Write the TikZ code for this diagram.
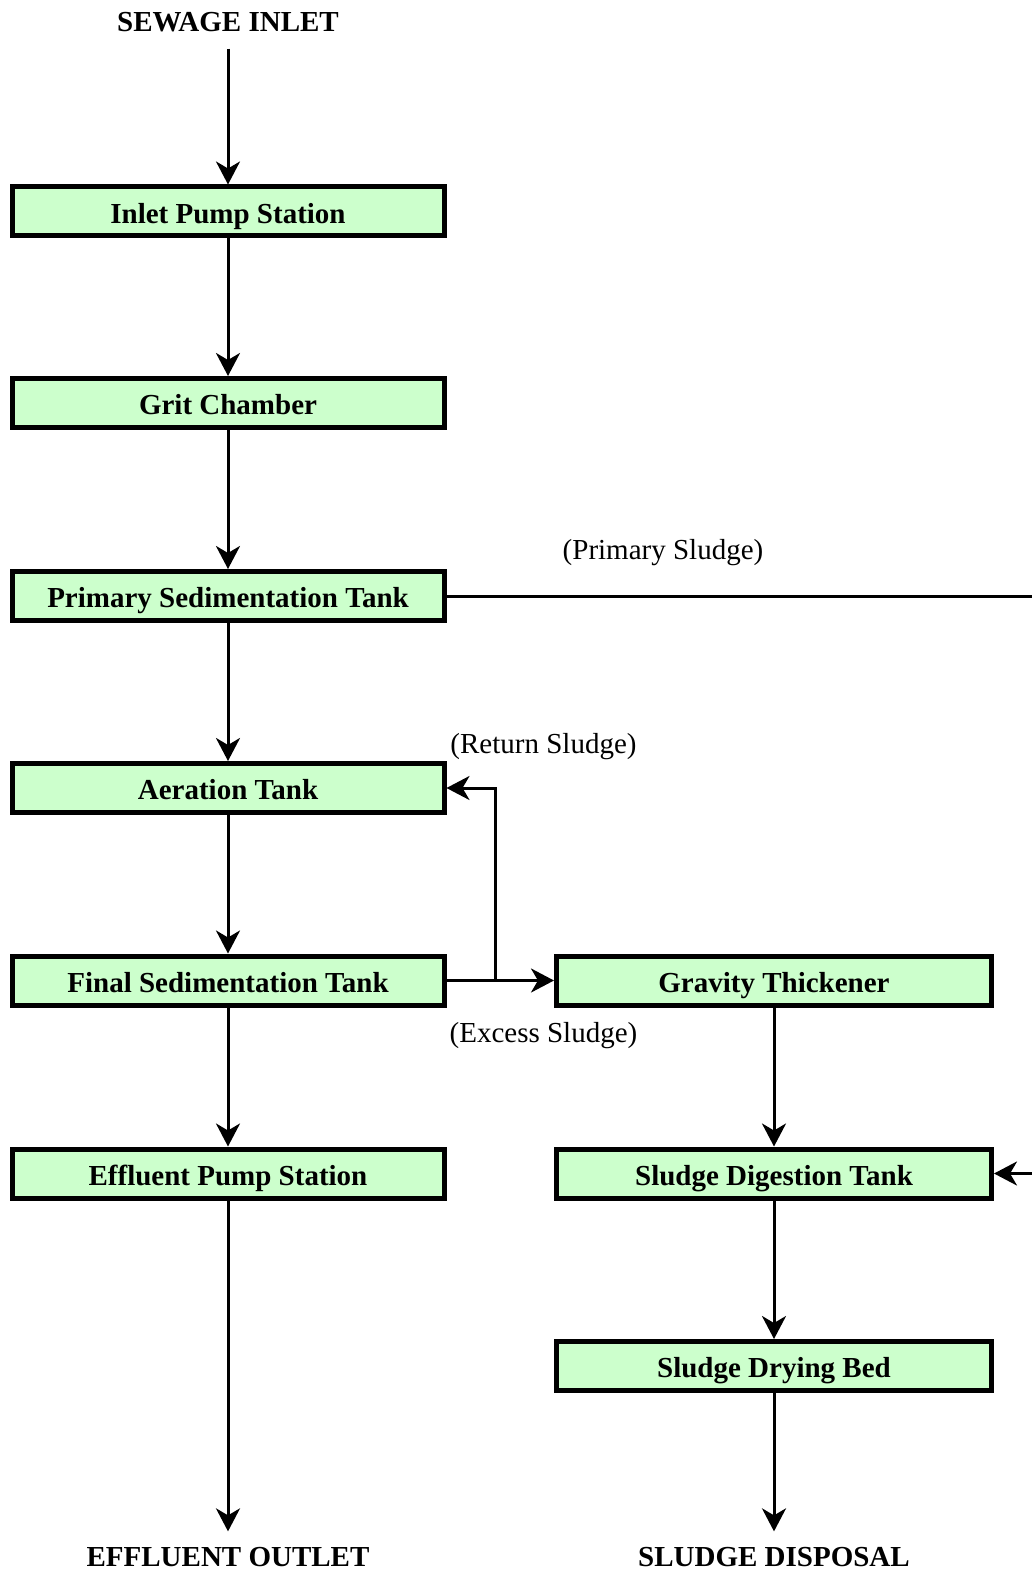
\documentclass[tikz,border=0pt]{standalone}
\usepackage{fontspec}
\setmainfont{Liberation Serif}
\usetikzlibrary{arrows.meta}
\definecolor{tankgreen}{HTML}{CCFFCC}

\begin{document}
\begin{tikzpicture}[x=0.5pt, y=-0.5pt,
    font=\fontsize{14.5}{17}\selectfont,
    unit/.style={draw, line width=2.5pt, fill=tankgreen, minimum width=216pt,
      minimum height=24.5pt, inner sep=0pt, text height=12.5pt, text depth=0.9pt,
      font=\fontsize{14.5}{17}\selectfont\bfseries},
    terminal/.style={inner sep=8pt, font=\fontsize{14.5}{17}\selectfont\bfseries},
    flow/.style={line width=1.5pt, -{Stealth[length=11.5pt, width=12pt, inset=3.5pt]}}]
      \clip (0,0) rectangle (1032,1573);
      % Water line
      \node[terminal] (inlet) at (228,22.5) {SEWAGE INLET};
      \node[unit] (ips) at (228,211.5) {Inlet Pump Station};
      \node[unit] (grit) at (228,403) {Grit Chamber};
      \node[unit] (pst) at (228,596) {Primary Sedimentation Tank};
      \node[unit] (aer) at (228,788) {Aeration Tank};
      \node[unit] (fst) at (228,980.5) {Final Sedimentation Tank};
      \node[unit] (eps) at (228,1173.5) {Effluent Pump Station};
      \node[terminal] (outlet) at (228,1557.5) {EFFLUENT OUTLET};
      % Sludge line
      \node[unit, minimum width=217.5pt] (thick) at (774,980.5) {Gravity Thickener};
      \node[unit, minimum width=217.5pt] (digest) at (774,1173.5) {Sludge Digestion Tank};
      \node[unit, minimum width=217.5pt] (drying) at (774,1366) {Sludge Drying Bed};
      \node[terminal] (disposal) at (774,1557.5) {SLUDGE DISPOSAL};
      % Labels
      \node (lblprimary) at (663,552.5) {(Primary Sludge)};
      \node (lblreturn) at (543.5,747) {(Return Sludge)};
      \node (lblexcess) at (543.5,1036) {(Excess Sludge)};
      % Connectors
      \coordinate (split) at (495,980.5);
      \coordinate (sludgeturn) at (1070,596);
      \draw[flow] (inlet) -- (ips);
      \draw[flow] (ips) -- (grit);
      \draw[flow] (grit) -- (pst);
      \draw[flow] (pst) -- (aer);
      \draw[flow] (aer) -- (fst);
      \draw[flow] (fst) -- (eps);
      \draw[flow] (eps) -- (outlet);
      \draw[flow] (fst.east) -- (thick.west);
      \draw[flow] (split) |- (aer.east);
      \draw[flow] (thick) -- (digest);
      \draw[flow] (digest) -- (drying);
      \draw[flow] (drying) -- (disposal);
      \draw[flow] (pst.east) -- (sludgeturn) |- (digest.east);
\end{tikzpicture}
\end{document}
